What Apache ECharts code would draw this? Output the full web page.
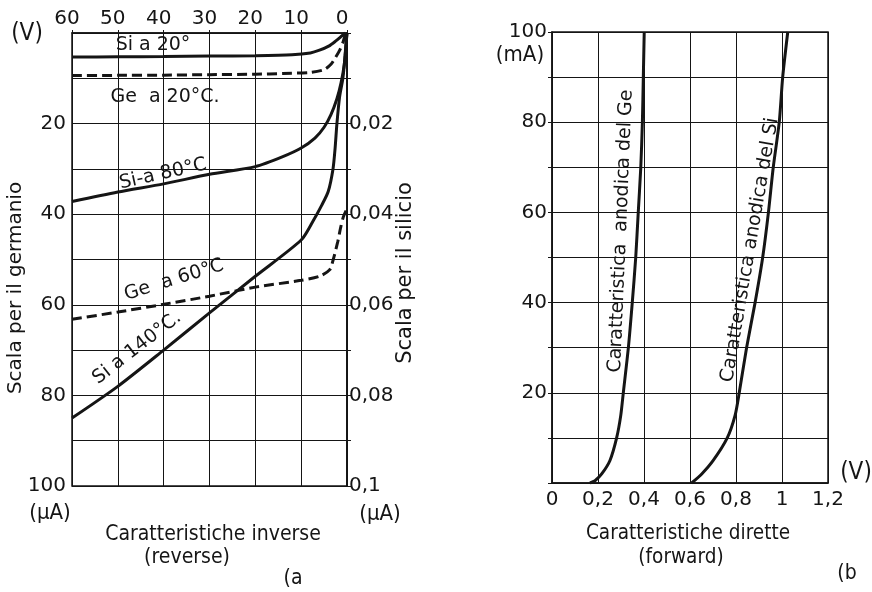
<!DOCTYPE html>
<html><head><meta charset="utf-8">
<script src="https://cdn.jsdelivr.net/npm/echarts@6/dist/echarts.min.js"></script>
<style>html,body{margin:0;padding:0;background:#fff}#c{width:872px;height:592px}</style>
</head><body><div id="c"></div><script>
// ---- tick labels ----
const reverseVoltLabels = ['0','10','20','30','40','50','60'];
const germaniumTickLabels = ['20','40','60','80','100'];
const siliconTickLabels = ['0,02','0,04','0,06','0,08','0,1'];
const forwardVoltLabels = ['0','0,2','0,4','0,6','0,8','1','1,2'];
const forwardCurrentLabels = ['20','40','60','80','100'];

// ---- (a) reverse characteristics: [volts, current on germanium scale] ----
const siAt20 = [[60,5.3],[50,5.25],[40,5.2],[30,5.1],[20,5.0],[12,4.8],[8,4.4],[6,3.8],[4,2.9],[2.5,1.8],[1.2,0.7],[0.4,0]];
const geAt20 = [[60,9.4],[50,9.35],[40,9.3],[30,9.2],[20,9.1],[14,8.95],[8,8.7],[5,8.1],[3.5,6.9],[2.5,5.4],[1.5,3.6],[0.8,1.8],[0.3,0]];
const siAt80 = [[60,37.2],[50,35.1],[40,33.3],[30,31.2],[20,29.5],[14,27.3],[10,25.4],[7,23.2],[5,20.8],[3.5,18],[2.2,14.5],[1.3,11],[0.6,7],[0.2,2],[0,0]];
const geAt60 = [[60,63.2],[50,61.6],[40,59.9],[30,58.1],[20,56.1],[10,54.6],[6,53.7],[3.8,52.3],[3,50],[2,46],[1.4,43],[0.8,40.6],[0.2,39.2]];
const siAt140 = [[60,85],[50,78],[40,70],[30,61.8],[20,53.7],[10,45.7],[7.4,41.5],[5.5,38],[4.1,35],[3.05,30],[2.6,25.5],[2.2,20],[1.6,14],[0.9,10],[0.4,5],[0,0]];

// ---- (b) forward characteristics: [volts, mA] ----
const geForward = [[0.165,0],[0.187,0.5],[0.216,2],[0.252,5],[0.281,10],[0.299,15],[0.31,20],[0.332,30],[0.349,40],[0.364,50],[0.375,60],[0.386,70],[0.393,80],[0.397,90],[0.401,100]];
const siForward = [[0.607,0],[0.651,2],[0.701,5],[0.762,10],[0.796,15],[0.814,20],[0.846,30],[0.883,40],[0.916,50],[0.941,60],[0.962,70],[0.988,80],[1.003,90],[1.025,100]];

const FONT = '"DejaVu Sans", sans-serif';
const INK = '#151515';
const chart = echarts.init(document.getElementById('c'), null, {renderer:'canvas'});

function lbl(size){ return {fontFamily: FONT, fontSize: size, color: INK}; }
function txt(text, x, y, size, opts){
  opts = opts || {};
  const el = {type:'text', x:x, y:y, z: 50,
    style:{text:text, font: size + 'px ' + FONT, fill: INK, align:'center', verticalAlign:'middle',
      textAlign:'center', textVerticalAlign:'middle'}};
  if (opts.rot) el.rotation = opts.rot;
  if (opts.sx) el.scaleX = opts.sx;
  return el;
}
const solid = {color: INK, width: 3};
const dashed = {color: INK, width: 3, type: [10, 5]};
function ser(name, data, ls, xi, yi){
  return {name:name, type:'line', data:data, xAxisIndex:xi, yAxisIndex:yi, showSymbol:false, symbol:'none',
    smooth:0.25, lineStyle:ls, z:10};
}

chart.setOption({
  animation: false,
  backgroundColor: '#fff',
  grid: [
    {left:72, top:33, width:275, height:453, show:true, borderColor:INK, borderWidth:1.5, backgroundColor:'transparent', containLabel:false, outerBoundsMode:'none'},
    {left:552, top:32, width:276, height:451, show:true, borderColor:INK, borderWidth:1.5, backgroundColor:'transparent', containLabel:false, outerBoundsMode:'none'}
  ],
  xAxis: [
    {type:'value', gridIndex:0, position:'top', min:0, max:60, interval:10, inverse:true,
     axisLine:{show:true, lineStyle:{color:INK, width:1.5}},
     axisTick:{show:true, inside:false, length:3, lineStyle:{color:INK}},
     axisLabel:Object.assign(lbl(20), {margin:4, showMinLabel:true, showMaxLabel:true, padding:[0,10,0,0],
       formatter:v => reverseVoltLabels[Math.round(v/10)]}),
     splitLine:{show:true, lineStyle:{color:INK, width:1}}},
    {type:'value', gridIndex:1, position:'bottom', min:0, max:1.2, interval:0.2,
     axisLine:{show:true, lineStyle:{color:INK, width:1.5}},
     axisTick:{show:false},
     axisLabel:Object.assign(lbl(20), {margin:7, showMinLabel:true, showMaxLabel:true,
       formatter:v => forwardVoltLabels[Math.round(v*5)]}),
     splitLine:{show:true, lineStyle:{color:INK, width:1}}}
  ],
  yAxis: [
    {type:'value', gridIndex:0, position:'left', min:0, max:100, interval:10, inverse:true,
     axisLine:{show:true, lineStyle:{color:INK, width:1.5}},
     axisTick:{show:true, inside:false, length:4, lineStyle:{color:INK}},
     axisLabel:Object.assign(lbl(20), {margin:6, showMinLabel:true, showMaxLabel:true,
       formatter:v => (v > 0 && Math.round(v) % 20 === 0) ? germaniumTickLabels[Math.round(v/20)-1] : ''}),
     splitLine:{show:true, lineStyle:{color:INK, width:1}}},
    {type:'value', gridIndex:0, position:'right', min:0, max:0.1, interval:0.01, inverse:true,
     axisLine:{show:true, lineStyle:{color:INK, width:1.5}},
     axisTick:{show:true, inside:false, length:4, lineStyle:{color:INK}},
     axisLabel:Object.assign(lbl(20), {margin:2, showMinLabel:true, showMaxLabel:true,
       formatter:v => { const k = Math.round(v*100); return (k > 0 && k % 2 === 0) ? siliconTickLabels[k/2-1] : ''; }}),
     splitLine:{show:false}},
    {type:'value', gridIndex:1, position:'left', min:0, max:100, interval:10,
     axisLine:{show:true, lineStyle:{color:INK, width:1.5}},
     axisTick:{show:true, inside:false, length:4, lineStyle:{color:INK}},
     axisLabel:Object.assign(lbl(20), {margin:5, showMinLabel:true, showMaxLabel:true,
       formatter:v => (v > 0 && Math.round(v) % 20 === 0) ? forwardCurrentLabels[Math.round(v/20)-1] : ''}),
     splitLine:{show:true, lineStyle:{color:INK, width:1}}}
  ],
  series: [
    ser('Si a 20°', siAt20, solid, 0, 0),
    ser('Ge a 20°C', geAt20, dashed, 0, 0),
    ser('Si a 80°C', siAt80, solid, 0, 0),
    ser('Ge a 60°C', geAt60, dashed, 0, 0),
    ser('Si a 140°C', siAt140, solid, 0, 0),
    ser('Caratteristica anodica del Ge', geForward, solid, 1, 2),
    ser('Caratteristica anodica del Si', siForward, solid, 1, 2)
  ],
  graphic: { elements: [
    txt('(V)', 27, 34, 24, {sx:0.9}),
    txt('(μA)', 50, 513, 22, {sx:0.9}),
    txt('(μA)', 380, 514, 22, {sx:0.9}),
    txt('Scala per il germanio', 16, 288, 20, {rot:Math.PI/2}),
    txt('Scala per il silicio', 406, 273, 21, {rot:Math.PI/2}),
    txt('Si a 20°', 153, 45, 19),
    txt('Ge  a 20°C.', 165, 97, 19),
    txt('Si-a 80°C', 163, 174, 19, {rot:0.22}),
    txt('Ge  a 60°C', 174, 280, 19, {rot:0.3}),
    txt('Si a 140°C.', 137, 348, 19, {rot:0.66}),
    txt('Caratteristiche inverse', 213, 534, 22, {sx:0.86}),
    txt('(reverse)', 187, 557, 22, {sx:0.86}),
    txt('(a', 293, 578, 22, {sx:0.86}),
    txt('(mA)', 520, 55, 22, {sx:0.9}),
    txt('(V)', 856, 473, 24, {sx:0.9}),
    txt('Caratteristica  anodica del Ge', 621, 231, 19, {rot:1.529}),
    txt('Caratteristica anodica del Si', 750, 250, 19, {rot:1.40}),
    txt('Caratteristiche dirette', 688, 533, 22, {sx:0.84}),
    txt('(forward)', 681, 557, 22, {sx:0.84}),
    txt('(b', 847, 573, 22, {sx:0.86})
  ]}
});
</script></body></html>
